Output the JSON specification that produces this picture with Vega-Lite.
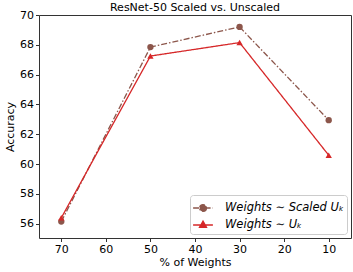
{
  "$schema": "https://vega.github.io/schema/vega-lite/v6.json",
  "width": 312,
  "height": 223,
  "autosize": "none",
  "padding": {"left": 39, "top": 15, "right": 2, "bottom": 34},
  "background": "white",
  "title": {"text": "ResNet-50 Scaled vs. Unscaled", "font": "DejaVu Sans", "fontSize": 11, "fontWeight": "normal", "color": "black", "frame": "group", "offset": 4, "dy": 8},
  "config": {
    "font": "DejaVu Sans",
    "view": {"stroke": "#333", "strokeWidth": 1},
    "axis": {"grid": false, "labelFont": "DejaVu Sans", "titleFont": "DejaVu Sans", "labelFontSize": 11, "titleFontSize": 11, "titleFontWeight": "normal", "labelColor": "black", "titleColor": "black", "tickColor": "#333", "domain": false, "tickSize": 3.5}
  },
  "data": {"values": [
    {"w": 70, "acc": 56.15, "series": "Weights ∼ Scaled Uₖ"},
    {"w": 50, "acc": 67.85, "series": "Weights ∼ Scaled Uₖ"},
    {"w": 30, "acc": 69.2, "series": "Weights ∼ Scaled Uₖ"},
    {"w": 10, "acc": 62.95, "series": "Weights ∼ Scaled Uₖ"},
    {"w": 70, "acc": 56.4, "series": "Weights ∼ Uₖ"},
    {"w": 50, "acc": 67.25, "series": "Weights ∼ Uₖ"},
    {"w": 30, "acc": 68.15, "series": "Weights ∼ Uₖ"},
    {"w": 10, "acc": 60.6, "series": "Weights ∼ Uₖ"}
  ]},
  "encoding": {
    "x": {"field": "w", "type": "quantitative", "title": "% of Weights", "scale": {"domain": [75, 5], "nice": false, "zero": false}, "axis": {"values": [70, 60, 50, 40, 30, 20, 10], "titlePadding": 2, "labelPadding": 2}},
    "y": {"field": "acc", "type": "quantitative", "title": "Accuracy", "scale": {"domain": [55.05, 70], "nice": false, "zero": false}, "axis": {"values": [56, 58, 60, 62, 64, 66, 68, 70], "titlePadding": 4, "labelPadding": 2}},
    "color": {"field": "series", "type": "nominal", "scale": {"domain": ["Weights ∼ Scaled Uₖ", "Weights ∼ Uₖ"], "range": ["#8c564b", "#d62728"]},
      "legend": {"title": null, "orient": "bottom-right", "offset": 4, "labelFont": "DejaVu Sans", "labelFontStyle": "italic", "labelFontSize": 11.5, "labelColor": "black", "strokeColor": "#ccc", "fillColor": "white", "cornerRadius": 3, "padding": 3, "rowPadding": 0, "symbolSize": 324, "labelOffset": 12,
        "encode": {"symbols": {"update": {
          "shape": {"signal": "datum.value === 'Weights ∼ Uₖ' ? 'M-1.1,0H1.1M0,-0.42L0.38,0.26L-0.38,0.26Z' : 'M-1.1,0H1.1M0.38,0A0.38,0.38,0,1,1,-0.38,0A0.38,0.38,0,1,1,0.38,0Z'"},
          "fill": {"scale": "color", "field": "value"},
          "stroke": {"scale": "color", "field": "value"},
          "strokeWidth": {"value": 1.4},
          "strokeDash": {"value": [1, 0]},
          "opacity": {"value": 1}
        }}}}}
  },
  "layer": [
    {"mark": {"type": "line", "strokeWidth": 1.3}, "encoding": {"strokeDash": {"field": "series", "type": "nominal", "scale": {"domain": ["Weights ∼ Scaled Uₖ", "Weights ∼ Uₖ"], "range": [[6, 2, 1.5, 2], [1, 0]]}, "legend": null}}},
    {"transform": [{"filter": "datum.series === 'Weights ∼ Scaled Uₖ'"}], "mark": {"type": "point", "shape": "circle", "filled": true, "size": 40, "opacity": 1}},
    {"transform": [{"filter": "datum.series === 'Weights ∼ Uₖ'"}], "mark": {"type": "point", "shape": "triangle-up", "filled": true, "size": 40, "opacity": 1}}
  ]
}
